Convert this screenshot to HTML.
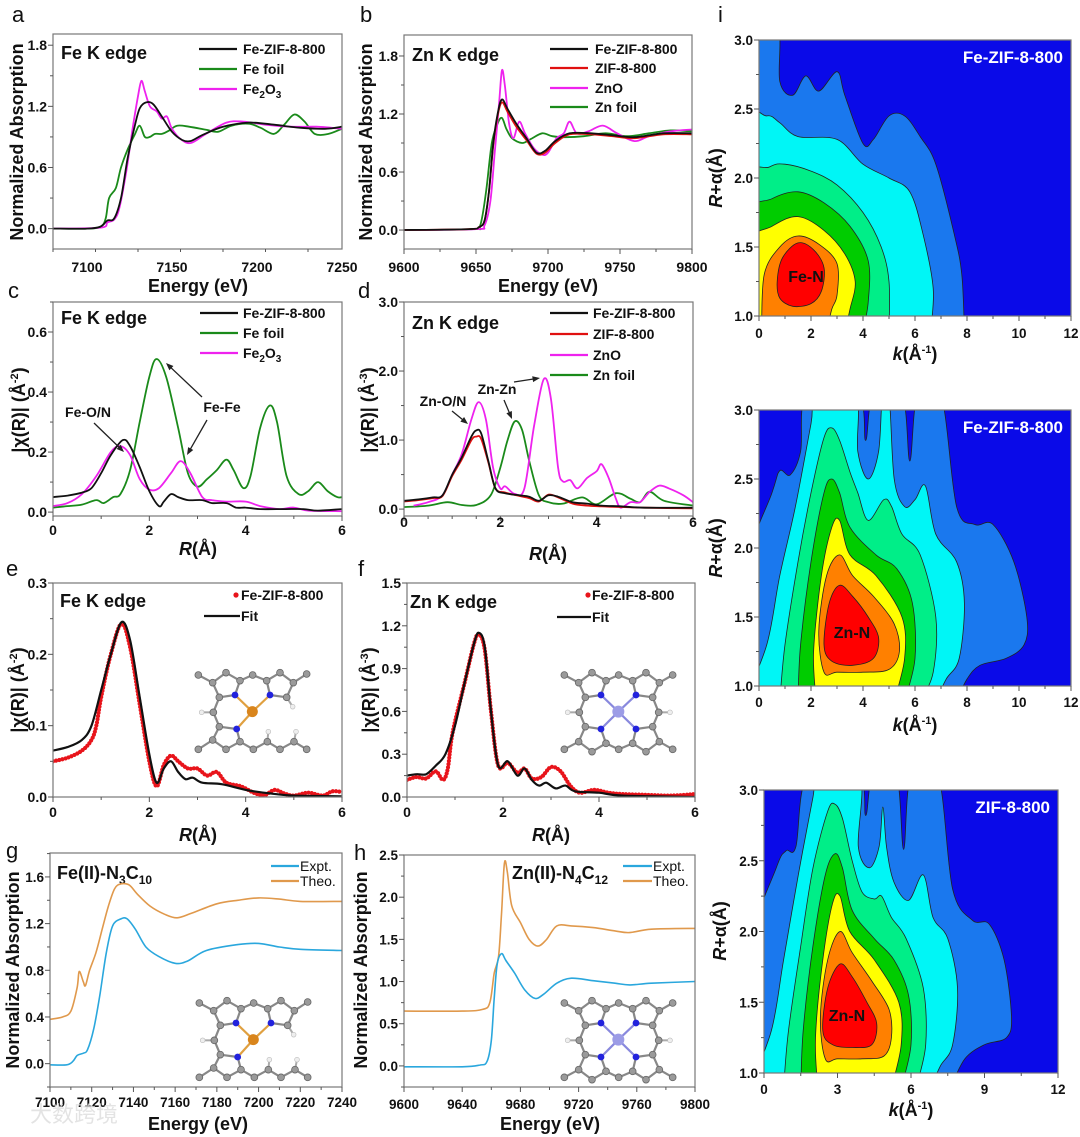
<!DOCTYPE html>
<html><head><meta charset="utf-8">
<style>
html,body{margin:0;padding:0;background:#fff;}
svg{display:block;font-family:"Liberation Sans","Noto Sans CJK SC",sans-serif;}
.t{font-weight:bold;fill:#111;}
</style></head>
<body>
<svg id="fig" xmlns="http://www.w3.org/2000/svg" width="1080" height="1137" viewBox="0 0 1080 1137">
<rect x="0" y="0" width="1080" height="1137" fill="#fff"/>
<g font-size="22" fill="#111">
<text x="12" y="22">a</text>
<text x="360" y="22">b</text>
<text x="8" y="298">c</text>
<text x="358" y="298">d</text>
<text x="6" y="576">e</text>
<text x="358" y="576">f</text>
<text x="6" y="858">g</text>
<text x="354" y="860">h</text>
<text x="718" y="22">i</text>
</g>
<g class="t" font-size="18" text-anchor="middle">
<text transform="translate(23,142) rotate(-90)">Normalized Absorption</text>
<text transform="translate(372,142) rotate(-90)">Normalized Absorption</text>
<text x="198" y="292">Energy (eV)</text>
<text x="548" y="292">Energy (eV)</text>
<text transform="translate(25,410) rotate(-90)">|χ(R)| (Å<tspan font-size="11" dy="-7">-2</tspan><tspan dy="7">)</tspan></text>
<text transform="translate(374,410) rotate(-90)">|χ(R)| (Å<tspan font-size="11" dy="-7">-3</tspan><tspan dy="7">)</tspan></text>
<text x="198" y="555"><tspan font-style="italic">R</tspan>(Å)</text>
<text x="548" y="560"><tspan font-style="italic">R</tspan>(Å)</text>
<text transform="translate(24,690) rotate(-90)">|χ(R)| (Å<tspan font-size="11" dy="-7">-2</tspan><tspan dy="7">)</tspan></text>
<text transform="translate(375,690) rotate(-90)">|χ(R)| (Å<tspan font-size="11" dy="-7">-3</tspan><tspan dy="7">)</tspan></text>
<text x="198" y="841"><tspan font-style="italic">R</tspan>(Å)</text>
<text x="551" y="841"><tspan font-style="italic">R</tspan>(Å)</text>
<text transform="translate(19,970) rotate(-90)">Normalized Absorption</text>
<text transform="translate(367,970) rotate(-90)">Normalized Absorption</text>
<text x="198" y="1130">Energy (eV)</text>
<text x="550" y="1130">Energy (eV)</text>
<text transform="translate(722,178) rotate(-90)"><tspan font-style="italic">R</tspan>+α(Å)</text>
<text transform="translate(722,548) rotate(-90)"><tspan font-style="italic">R</tspan>+α(Å)</text>
<text transform="translate(726,931) rotate(-90)"><tspan font-style="italic">R</tspan>+α(Å)</text>
<text x="915" y="360"><tspan font-style="italic">k</tspan>(Å<tspan font-size="11" dy="-7">-1</tspan><tspan dy="7">)</tspan></text>
<text x="915" y="731"><tspan font-style="italic">k</tspan>(Å<tspan font-size="11" dy="-7">-1</tspan><tspan dy="7">)</tspan></text>
<text x="911" y="1116"><tspan font-style="italic">k</tspan>(Å<tspan font-size="11" dy="-7">-1</tspan><tspan dy="7">)</tspan></text>
</g>
<g class="t" font-size="18">
<text x="61" y="59">Fe K edge</text>
<text x="412" y="61">Zn K edge</text>
<text x="61" y="324">Fe K edge</text>
<text x="412" y="329">Zn K edge</text>
<text x="60" y="607">Fe K edge</text>
<text x="410" y="608">Zn K edge</text>
<text x="57" y="879">Fe(II)-N<tspan font-size="12" dy="5">3</tspan><tspan dy="-5">C</tspan><tspan font-size="12" dy="5">10</tspan></text>
<text x="512" y="879">Zn(II)-N<tspan font-size="12" dy="5">4</tspan><tspan dy="-5">C</tspan><tspan font-size="12" dy="5">12</tspan></text>
</g>
<g id="charts"></g>
<text x="30" y="1122" font-size="22" fill="#ddd" opacity="0.8">大数跨境</text>
</svg>
<script>
const aXTicks=[7100,7150,7200,7250];
const aYTicks=[0.0,0.6,1.2,1.8];
const aFeZIF=[[7080,0],[7100,0],[7108,0.02],[7112,0.08],[7116,0.1],[7120,0.3],[7124,0.7],[7128,1.0],[7131,1.18],[7135,1.24],[7139,1.22],[7144,1.1],[7150,0.95],[7156,0.87],[7161,0.86],[7168,0.92],[7180,1.0],[7195,1.04],[7210,1.02],[7225,0.99],[7240,0.98],[7250,1.0]];
const aFeFoil=[[7080,0],[7100,0],[7108,0.02],[7111,0.1],[7113,0.3],[7117,0.4],[7120,0.6],[7124,0.78],[7128,0.92],[7131,1.01],[7134,0.9],[7137,0.9],[7140,0.93],[7144,0.93],[7148,0.96],[7153,1.01],[7160,1.0],[7170,0.97],[7177,0.95],[7185,1.01],[7195,1.03],[7202,0.99],[7210,0.93],[7216,1.02],[7222,1.12],[7228,1.05],[7234,0.93],[7242,0.93],[7250,0.98]];
const aFe2O3=[[7080,0],[7108,0.01],[7112,0.06],[7116,0.09],[7119,0.2],[7123,0.55],[7127,1.0],[7130,1.3],[7132,1.45],[7134,1.35],[7137,1.2],[7141,1.15],[7144,1.08],[7147,1.1],[7150,0.98],[7155,0.88],[7161,0.84],[7170,0.93],[7182,1.04],[7192,1.05],[7205,1.02],[7220,1.0],[7235,1.0],[7250,0.98]];
const bXTicks=[9600,9650,9700,9750,9800];
const bYTicks=[0.0,0.6,1.2,1.8];
const bFeZIF=[[9600,0],[9645,0.01],[9652,0.03],[9656,0.1],[9659,0.4],[9662,0.9],[9665,1.2],[9668,1.35],[9672,1.25],[9678,1.1],[9685,0.95],[9692,0.8],[9698,0.82],[9705,0.92],[9715,1.0],[9730,1.0],[9745,0.98],[9760,0.96],[9780,1.0],[9800,1.0]];
const bZIF=[[9600,0],[9645,0.01],[9652,0.03],[9656,0.1],[9659,0.4],[9662,0.88],[9665,1.18],[9668,1.32],[9672,1.22],[9678,1.07],[9685,0.93],[9692,0.79],[9698,0.8],[9705,0.9],[9715,0.99],[9730,0.99],[9745,0.97],[9760,0.95],[9780,0.99],[9800,0.99]];
const bZnO=[[9600,0],[9650,0.01],[9656,0.05],[9660,0.3],[9663,0.8],[9666,1.3],[9668,1.65],[9670,1.5],[9673,1.1],[9676,0.95],[9680,1.12],[9684,1.0],[9690,0.85],[9696,0.78],[9700,0.8],[9706,0.95],[9711,1.0],[9715,1.12],[9720,1.0],[9728,1.02],[9738,1.08],[9748,1.0],[9760,0.92],[9770,0.97],[9785,1.02],[9800,1.04]];
const bZnFoil=[[9600,0],[9648,0.01],[9653,0.05],[9657,0.4],[9661,0.9],[9665,1.1],[9668,1.16],[9671,1.05],[9675,0.95],[9682,0.9],[9688,0.94],[9696,1.0],[9703,0.97],[9712,0.96],[9725,0.97],[9740,1.0],[9755,0.97],[9770,1.0],[9785,1.03],[9800,1.02]];
const cXTicks=[0,2,4,6];
const cYTicks=[0.0,0.2,0.4,0.6];
const cFeZIF=[[0,0.05],[0.3,0.055],[0.6,0.065],[0.8,0.08],[1.0,0.13],[1.2,0.19],[1.45,0.24],[1.6,0.22],[1.8,0.15],[2.0,0.07],[2.2,0.02],[2.3,0.035],[2.45,0.06],[2.6,0.05],[2.8,0.04],[3.1,0.04],[3.3,0.03],[3.6,0.03],[3.8,0.015],[4,0.015],[4.3,0.01],[4.8,0.01],[5.2,0.01],[5.5,0.005],[6,0.01]];
const cFeFoil=[[0,0.015],[0.3,0.02],[0.6,0.025],[0.9,0.04],[1.05,0.03],[1.25,0.05],[1.4,0.06],[1.6,0.14],[1.8,0.3],[2.0,0.45],[2.15,0.51],[2.35,0.45],[2.6,0.28],[2.8,0.13],[3.0,0.085],[3.2,0.11],[3.4,0.14],[3.6,0.175],[3.75,0.14],[3.95,0.08],[4.1,0.12],[4.3,0.28],[4.5,0.355],[4.65,0.3],[4.85,0.12],[5.1,0.06],[5.3,0.07],[5.5,0.1],[5.7,0.07],[5.9,0.05],[6,0.05]];
const cFe2O3=[[0,0.02],[0.3,0.03],[0.6,0.06],[0.9,0.12],[1.2,0.2],[1.4,0.22],[1.6,0.19],[1.8,0.11],[2.0,0.075],[2.2,0.08],[2.45,0.13],[2.65,0.17],[2.85,0.13],[3.1,0.05],[3.3,0.04],[3.6,0.035],[4.0,0.035],[4.3,0.02],[4.7,0.01],[5.0,0.015],[5.3,0.005],[6,0.003]];
const dXTicks=[0,2,4,6];
const dYTicks=[0.0,1.0,2.0,3.0];
const dFeZIF=[[0,0.12],[0.3,0.14],[0.6,0.17],[0.8,0.2],[1.0,0.5],[1.2,0.75],[1.4,1.05],[1.5,1.14],[1.6,1.1],[1.75,0.7],[1.9,0.3],[2.1,0.23],[2.4,0.2],[2.6,0.18],[2.8,0.12],[3.0,0.2],[3.2,0.18],[3.5,0.1],[3.8,0.08],[4.1,0.05],[4.5,0.04],[5,0.02],[6,0.02]];
const dZIF=[[0,0.11],[0.3,0.13],[0.6,0.16],[0.8,0.19],[1.0,0.48],[1.2,0.72],[1.4,1.0],[1.5,1.05],[1.6,1.02],[1.75,0.68],[1.9,0.3],[2.1,0.24],[2.4,0.19],[2.6,0.16],[2.8,0.11],[3.0,0.21],[3.2,0.17],[3.5,0.08],[3.8,0.05],[4.1,0.04],[4.5,0.03],[5,0.02],[6,0.01]];
const dZnO=[[0.2,0.05],[0.5,0.1],[0.8,0.2],[1.0,0.5],[1.2,0.8],[1.4,1.3],[1.55,1.55],[1.7,1.3],[1.85,0.6],[2.0,0.3],[2.1,0.33],[2.3,0.22],[2.5,0.3],[2.7,1.2],[2.9,1.88],[3.05,1.6],[3.2,0.6],[3.3,0.4],[3.45,0.42],[3.6,0.3],[3.8,0.45],[4.0,0.55],[4.1,0.65],[4.25,0.45],[4.4,0.15],[4.5,0.02],[4.7,0.1],[4.9,0.1],[5.1,0.25],[5.3,0.34],[5.5,0.3],[5.8,0.2],[6,0.1]];
const dZnFoil=[[0,0.03],[0.5,0.05],[0.9,0.1],[1.2,0.06],[1.5,0.06],[1.8,0.2],[2.0,0.6],[2.15,1.0],[2.3,1.27],[2.45,1.15],[2.6,0.7],[2.8,0.2],[3.0,0.1],[3.3,0.08],[3.7,0.17],[4.0,0.07],[4.4,0.23],[4.7,0.15],[4.9,0.1],[5.1,0.25],[5.4,0.12],[6,0.05]];
const eXTicks=[0,2,4,6];
const eYTicks=[0.0,0.1,0.2,0.3];
const eData=[[0,0.05],[0.3,0.055],[0.6,0.065],[0.8,0.08],[0.9,0.1],[1.0,0.14],[1.2,0.2],[1.42,0.243],[1.6,0.21],[1.8,0.13],[2.0,0.05],[2.15,0.015],[2.3,0.045],[2.45,0.058],[2.6,0.05],[2.8,0.04],[3.0,0.04],[3.2,0.03],[3.4,0.035],[3.6,0.02],[3.9,0.015],[4.2,0.005],[4.4,0.003],[4.6,0.01],[4.8,0.005],[5.0,0.002],[5.3,0.006],[5.6,0.002],[5.8,0.008],[6,0.007]];
const eFit=[[0,0.065],[0.3,0.07],[0.6,0.08],[0.8,0.1],[1.0,0.15],[1.2,0.2],[1.42,0.245],[1.6,0.22],[1.8,0.14],[2.0,0.06],[2.15,0.02],[2.3,0.04],[2.45,0.05],[2.6,0.035],[2.75,0.025],[2.9,0.027],[3.1,0.02],[3.5,0.018],[4,0.01],[4.5,0.005],[5,0.002],[6,0.001]];
const fXTicks=[0,2,4,6];
const fYTicks=[0.0,0.3,0.6,0.9,1.2,1.5];
const fData=[[0,0.12],[0.2,0.14],[0.4,0.13],[0.6,0.18],[0.75,0.12],[0.85,0.2],[0.95,0.45],[1.2,0.8],[1.4,1.08],[1.5,1.14],[1.62,1.03],[1.75,0.6],[1.9,0.22],[2.1,0.24],[2.3,0.17],[2.45,0.2],[2.6,0.13],[2.8,0.14],[3.0,0.21],[3.2,0.18],[3.4,0.08],[3.6,0.03],[3.9,0.05],[4.2,0.03],[4.5,0.02],[5,0.015],[5.5,0.01],[6,0.02]];
const fFit=[[0,0.15],[0.2,0.16],[0.4,0.16],[0.6,0.22],[0.8,0.3],[1.0,0.5],[1.2,0.8],[1.4,1.08],[1.5,1.15],[1.62,1.05],[1.75,0.6],[1.9,0.22],[2.1,0.25],[2.3,0.15],[2.45,0.2],[2.6,0.12],[2.75,0.08],[2.9,0.1],[3.1,0.06],[3.3,0.08],[3.5,0.04],[4,0.03],[4.5,0.01],[6,0.0]];
const gXTicks=[7100,7120,7140,7160,7180,7200,7220,7240];
const gYTicks=[0.0,0.4,0.8,1.2,1.6];
const gExpt=[[7100,-0.01],[7108,-0.01],[7111,0.02],[7113,0.07],[7116,0.09],[7118,0.12],[7121,0.3],[7124,0.6],[7127,0.95],[7130,1.18],[7134,1.24],[7137,1.24],[7141,1.15],[7146,1.0],[7152,0.92],[7160,0.86],[7166,0.88],[7175,0.97],[7190,1.02],[7200,1.03],[7210,1.0],[7220,0.98],[7240,0.97]];
const gTheo=[[7100,0.38],[7106,0.4],[7110,0.45],[7113,0.65],[7114,0.79],[7116,0.7],[7117,0.67],[7119,0.8],[7122,0.95],[7125,1.15],[7128,1.35],[7131,1.5],[7134,1.54],[7138,1.53],[7142,1.45],[7148,1.35],[7155,1.28],[7161,1.25],[7168,1.29],[7180,1.37],[7190,1.4],[7200,1.42],[7210,1.41],[7220,1.39],[7240,1.39]];
const hXTicks=[9600,9640,9680,9720,9760,9800];
const hYTicks=[0.0,0.5,1.0,1.5,2.0,2.5];
const hExpt=[[9600,-0.01],[9640,-0.01],[9652,0.01],[9657,0.05],[9660,0.3],[9662,0.8],[9664,1.2],[9667,1.33],[9670,1.25],[9676,1.1],[9683,0.9],[9690,0.8],[9696,0.85],[9705,0.98],[9715,1.04],[9730,1.01],[9745,0.98],[9755,0.96],[9770,0.98],[9800,1.0]];
const hTheo=[[9600,0.65],[9640,0.65],[9654,0.67],[9659,0.75],[9662,1.1],[9665,1.3],[9667,1.8],[9669,2.4],[9671,2.3],[9674,1.9],[9680,1.7],[9686,1.5],[9692,1.42],[9698,1.5],[9705,1.66],[9715,1.66],[9730,1.64],[9745,1.6],[9755,1.58],[9770,1.62],[9800,1.63]];
const iYTicks=[1.0,1.5,2.0,2.5,3.0];
const i1XTicks=[0,2,4,6,8,10,12];
const i3XTicks=[0,3,6,9,12];
const i1L1=[[0,1],[0,3.05],[0.7,3.05],[0.8,2.7],[1.3,2.6],[1.8,2.74],[2.3,2.63],[3.0,2.77],[3.3,2.6],[4.0,2.25],[4.4,2.28],[5,2.45],[5.6,2.45],[6.2,2.3],[6.8,2.1],[7.5,1.6],[7.8,1.3],[7.9,1.0]];
const i1L2=[[0,1],[0,2.35],[0.3,2.45],[0.8,2.4],[1.5,2.3],[3,2.28],[4,2.1],[5,2.0],[5.8,1.9],[6.3,1.6],[6.7,1.2],[6.6,1.0]];
const i1L3=[[0,1],[0,1.95],[0.4,2.08],[1,2.1],[2,2.05],[3,1.95],[4,1.75],[4.7,1.5],[5,1.25],[5,1.0]];
const i1L4=[[0,1],[0,1.7],[0.5,1.85],[1.5,1.9],[2.5,1.82],[3.5,1.65],[4.2,1.4],[4.2,1.1],[4,1.0]];
const i1L5=[[0,1],[0,1.5],[0.5,1.65],[1.5,1.72],[2.5,1.62],[3.3,1.45],[3.7,1.25],[3.5,1.05],[3.3,1.0]];
const i1L6=[[0.1,1],[0.2,1.3],[0.8,1.5],[1.5,1.58],[2.3,1.52],[3,1.38],[3.0,1.15],[2.8,1.05],[2.6,1.0]];
const i1L7=[[0.7,1.25],[0.9,1.42],[1.5,1.53],[2.1,1.48],[2.5,1.35],[2.4,1.18],[2,1.09],[1.3,1.07],[0.8,1.13]];
const i2L1=[[0,1],[0,1.8],[0.5,2.4],[0.8,2.56],[1.2,2.53],[1.6,2.7],[1.85,3.05],[3.8,3.05],[4.1,2.78],[4.4,3.05],[5.5,3.05],[5.8,2.63],[6.1,3.05],[7.0,3.05],[7.6,2.3],[8.3,2.17],[9.0,2.17],[9.8,1.9],[10.3,1.5],[10.2,1.3],[9.5,1.2],[8.5,1.15],[8,1.05],[7.6,1.0]];
const i2L2=[[0,1],[0.3,1.3],[0.8,1.8],[1.4,2.3],[2.0,2.9],[2.2,3.05],[3.7,3.05],[3.8,2.7],[4.2,2.5],[4.6,2.7],[4.75,3.05],[5.0,3.05],[5.2,2.5],[5.6,2.3],[6.0,2.35],[6.4,2.45],[6.8,2.1],[7.6,1.9],[7.9,1.6],[7.7,1.2],[7.2,1.05],[6.8,1.0]];
const i2L3=[[0.8,1],[1.0,1.3],[1.5,1.9],[2.0,2.4],[2.5,2.8],[2.8,2.87],[3.1,2.78],[3.5,2.55],[3.8,2.4],[4.2,2.2],[4.8,2.35],[5.1,2.3],[5.5,2.1],[6.2,1.95],[6.8,1.5],[6.7,1.1],[6.2,1.0]];
const i2L4=[[1.5,1],[1.6,1.3],[2.0,1.9],[2.5,2.4],[2.8,2.5],[3.1,2.4],[3.5,2.15],[4.5,1.95],[5.3,1.85],[5.9,1.6],[6.0,1.2],[5.6,1.0]];
const i2L5=[[2.2,1.0],[2.1,1.25],[2.4,1.8],[2.8,2.15],[3.1,2.2],[3.5,1.95],[4.5,1.8],[5.5,1.5],[5.6,1.2],[5.2,1.0]];
const i2L6=[[2.5,1.1],[2.3,1.4],[2.6,1.8],[3.1,1.95],[3.6,1.8],[4.4,1.65],[5.2,1.45],[5.4,1.25],[5.0,1.12],[4,1.1],[3,1.1]];
const i2L7=[[2.5,1.3],[2.7,1.6],[3.1,1.73],[3.6,1.65],[4.2,1.5],[4.6,1.35],[4.4,1.2],[3.6,1.15],[2.8,1.18]];
const i3L1=[[0,1],[0,1.85],[0.5,2.45],[0.9,2.57],[1.3,2.6],[1.8,3.05],[3.85,3.05],[4.15,2.82],[4.45,3.05],[5.4,3.05],[5.7,2.58],[6.0,3.05],[7.1,3.05],[7.7,2.3],[8.5,2.08],[9.2,2.05],[9.8,1.8],[10.1,1.4],[9.9,1.25],[9.0,1.2],[8.2,1.1],[7.6,1.0]];
const i3L2=[[0,1],[0.3,1.3],[0.8,1.8],[1.4,2.4],[2.0,2.95],[2.2,3.05],[3.9,3.05],[3.85,2.6],[4.3,2.45],[4.7,2.6],[4.85,2.88],[5.0,2.6],[5.3,2.35],[5.9,2.22],[6.5,2.4],[6.9,2.1],[7.5,1.95],[7.9,1.6],[7.7,1.2],[7.2,1.05],[6.8,1.0]];
const i3L3=[[0.8,1],[1.0,1.3],[1.5,1.9],[2.0,2.45],[2.6,2.85],[2.9,2.9],[3.2,2.8],[3.6,2.5],[4.0,2.28],[4.5,2.23],[4.8,2.25],[5.2,2.1],[5.8,1.95],[6.5,1.6],[6.6,1.2],[6.2,1.0]];
const i3L4=[[1.5,1],[1.6,1.3],[2.0,1.9],[2.5,2.4],[2.9,2.55],[3.2,2.45],[3.6,2.15],[4.5,1.95],[5.3,1.8],[5.9,1.55],[6.0,1.2],[5.6,1.0]];
const i3L5=[[2.2,1.0],[2.1,1.25],[2.4,1.8],[2.8,2.2],[3.1,2.25],[3.5,2.0],[4.5,1.8],[5.5,1.5],[5.6,1.2],[5.2,1.0]];
const i3L6=[[2.5,1.1],[2.3,1.4],[2.6,1.8],[3.1,2.0],[3.6,1.85],[4.4,1.65],[5.1,1.45],[5.2,1.25],[4.9,1.12],[4,1.1],[3,1.1]];
const i3L7=[[2.4,1.3],[2.6,1.6],[3.1,1.77],[3.6,1.68],[4.2,1.5],[4.6,1.35],[4.4,1.2],[3.6,1.18],[2.8,1.2]];

const NS='http://www.w3.org/2000/svg';
const root=document.getElementById('charts');
function mk(tag,attrs,parent){const e=document.createElementNS(NS,tag);for(const k in attrs)e.setAttribute(k,attrs[k]);(parent||root).appendChild(e);return e;}
function smooth(pts,closed){
  if(pts.length<2)return '';
  let d='M'+pts[0][0].toFixed(1)+','+pts[0][1].toFixed(1);
  const n=pts.length;
  const P=i=>closed?pts[(i+n)%n]:pts[Math.max(0,Math.min(n-1,i))];
  const last=closed?n:n-1;
  for(let i=0;i<last;i++){
    const p0=P(i-1),p1=P(i),p2=P(i+1),p3=P(i+2);
    const c1=[p1[0]+(p2[0]-p0[0])/6,p1[1]+(p2[1]-p0[1])/6];
    const c2=[p2[0]-(p3[0]-p1[0])/6,p2[1]-(p3[1]-p1[1])/6];
    d+='C'+c1[0].toFixed(1)+','+c1[1].toFixed(1)+' '+c2[0].toFixed(1)+','+c2[1].toFixed(1)+' '+p2[0].toFixed(1)+','+p2[1].toFixed(1);
  }
  return d+(closed?'Z':'');
}
let clipN=0;
function axes(c){
  const g=mk('g',{});
  
  
  const sx=v=>c.x0+(v-c.xmin)/(c.xmax-c.xmin)*(c.x1-c.x0);
  const sy=v=>c.y1-(v-c.ymin)/(c.ymax-c.ymin)*(c.y1-c.y0);
  const id='clip'+(clipN++);
  const cp=mk('clipPath',{id:id},g);
  mk('rect',{x:c.x0,y:c.y0,width:c.x1-c.x0,height:c.y1-c.y0},cp);
  const plot=mk('g',{'clip-path':'url(#'+id+')'},g);
  
  
  return {g,plot,sx,sy,c};
}
function frame(A,xt,yt,xfmt,yfmt,xMinorStep,yMinorStep,fs,xlY){
  const {g,sx,sy,c}=A;
  const fr=mk('rect',{x:c.x0,y:c.y0,width:c.x1-c.x0,height:c.y1-c.y0,fill:'none',stroke:'#777','stroke-width':1.2},g);
  
  
  for(let v=c.xmin;v<=c.xmax+1e-9;v+=xMinorStep){
    const isMaj=xt.some(t=>Math.abs(t-v)<1e-6);
    const x=sx(v);
    if(x<c.x0-0.5||x>c.x1+0.5)continue;
    const tk=mk('line',{x1:x,x2:x,y1:c.y1,y2:c.y1+(isMaj?5:3),stroke:'#555','stroke-width':1},g);
    
    
  }
  xt.forEach(t=>{const tx=mk('text',{x:sx(t),y:xlY,'text-anchor':'middle','font-size':fs,'font-weight':'bold',fill:'#111'},g);tx.textContent=xfmt(t);
    
    });
  const y0=Math.ceil(c.ymin/yMinorStep-1e-9)*yMinorStep;
  for(let v=y0;v<=c.ymax+1e-9;v+=yMinorStep){
    const isMaj=yt.some(t=>Math.abs(t-v)<1e-6);
    const y=sy(v);
    const tk=mk('line',{x1:c.x0,x2:c.x0-(isMaj?5:3),y1:y,y2:y,stroke:'#555','stroke-width':1},g);
    
    
  }
  yt.forEach(t=>{const tx=mk('text',{x:c.x0-6,y:sy(t)+5,'text-anchor':'end','font-size':fs,'font-weight':'bold',fill:'#111'},g);tx.textContent=yfmt(t);
    
    });
}
function line(A,data,color,name,w){
  const p=mk('path',{d:smooth(data.map(d=>[A.sx(d[0]),A.sy(d[1])]),false),fill:'none',stroke:color,'stroke-width':w||1.8,'stroke-linejoin':'round'},A.plot);
  
  
  return p;
}
function dots(A,data,name){
  const p=mk('path',{d:smooth(data.map(d=>[A.sx(d[0]),A.sy(d[1])]),false),fill:'none',stroke:'#e8141b','stroke-width':4.2,'stroke-linecap':'round','stroke-dasharray':'0 3.2'},A.plot);
  
  
}
function legend(entries,lx0,lx1,ys,tx,fs,weight){
  entries.forEach((e,i)=>{
    const gg=mk('g',{});
    
    
    if(e.dot){mk('circle',{cx:(lx0+lx1)/2+14,cy:ys[i],r:2.6,fill:'#e8141b'},gg);}
    else mk('line',{x1:lx0,x2:lx1,y1:ys[i],y2:ys[i],stroke:e.color,'stroke-width':2.2},gg);
    const t=mk('text',{x:tx,y:ys[i]+5,'font-size':fs,'font-weight':weight||'bold',fill:'#111'},gg);
    if(e.sub){t.innerHTML=e.label;}else t.textContent=e.label;
  });
}
function arrow(x1,y1,x2,y2,name){
  const a=Math.atan2(y2-y1,x2-x1),L=8;
  const g=mk('g',{});
  
  
  mk('line',{x1,y1,x2:x2-Math.cos(a)*5,y2:y2-Math.sin(a)*5,stroke:'#222','stroke-width':1.3},g);
  mk('path',{d:`M${x2},${y2}L${x2-L*Math.cos(a-0.38)},${y2-L*Math.sin(a-0.38)}L${x2-L*Math.cos(a+0.38)},${y2-L*Math.sin(a+0.38)}Z`,fill:'#222'},g);
}
function label(x,y,txt,name,fs){
  const t=mk('text',{x,y,'text-anchor':'middle','font-size':fs||14,'font-weight':'bold',fill:'#111'});
  t.textContent=txt;
  
  
}
const f1=v=>v.toFixed(1), f0=v=>String(v);
const BLK='#111',GRN='#1a8a1a',MAG='#ee22ee',RED='#e01010',BLU='#2aa7dd',ORG='#e0994c';

let A=axes({id:'a',x0:53,x1:342,y0:34,y1:249,xmin:7080,xmax:7250,ymin:-0.2,ymax:1.91});
line(A,aFeFoil,GRN,'series-a-fe-foil');line(A,aFe2O3,MAG,'series-a-fe2o3');line(A,aFeZIF,BLK,'series-a-fe-zif-8-800');
frame(A,aXTicks,aYTicks,f0,f1,25,0.3,14,272);
legend([{key:'a-fe-zif',color:BLK,label:'Fe-ZIF-8-800'},{key:'a-fe-foil',color:GRN,label:'Fe foil'},{key:'a-fe2o3',color:MAG,sub:1,label:'Fe<tspan font-size="10" dy="4">2</tspan><tspan dy="-4">O</tspan><tspan font-size="10" dy="4">3</tspan>'}],199,237,[49,69,89],243,14);
A=axes({id:'b',x0:404,x1:692,y0:35,y1:249,xmin:9600,xmax:9800,ymin:-0.196,ymax:2.017});
line(A,bZnFoil,GRN,'series-b-zn-foil');line(A,bZnO,MAG,'series-b-zno');line(A,bZIF,RED,'series-b-zif-8-800');line(A,bFeZIF,BLK,'series-b-fe-zif-8-800');
frame(A,bXTicks,bYTicks,f0,f1,25,0.3,14,272);
legend([{key:'b-fe-zif',color:BLK,label:'Fe-ZIF-8-800'},{key:'b-zif',color:RED,label:'ZIF-8-800'},{key:'b-zno',color:MAG,label:'ZnO'},{key:'b-zn-foil',color:GRN,label:'Zn foil'}],550,588,[49,68,88,107],595,14);
A=axes({id:'c',x0:53,x1:342,y0:302,y1:516,xmin:0,xmax:6,ymin:-0.013,ymax:0.7});
line(A,cFeFoil,GRN,'series-c-fe-foil');line(A,cFe2O3,MAG,'series-c-fe2o3');line(A,cFeZIF,BLK,'series-c-fe-zif-8-800');
frame(A,cXTicks,cYTicks,f0,f1,1,0.1,14,535);
legend([{key:'c-fe-zif',color:BLK,label:'Fe-ZIF-8-800'},{key:'c-fe-foil',color:GRN,label:'Fe foil'},{key:'c-fe2o3',color:MAG,sub:1,label:'Fe<tspan font-size="10" dy="4">2</tspan><tspan dy="-4">O</tspan><tspan font-size="10" dy="4">3</tspan>'}],200,238,[313,333,353],243,14);
label(88,417,'Fe-O/N','annotation-fe-o-n');arrow(94,423,124,452,'arrow-fe-o-n');
label(222,412,'Fe-Fe','annotation-fe-fe');arrow(202,397,166,363,'arrow-fe-fe-1');arrow(207,420,187,455,'arrow-fe-fe-2');
A=axes({id:'d',x0:404,x1:693,y0:302,y1:516,xmin:0,xmax:6,ymin:-0.1,ymax:3.0});
line(A,dZnFoil,GRN,'series-d-zn-foil');line(A,dZnO,MAG,'series-d-zno');line(A,dZIF,RED,'series-d-zif-8-800');line(A,dFeZIF,BLK,'series-d-fe-zif-8-800');
frame(A,dXTicks,dYTicks,f0,f1,0.5,0.5,14,527);
legend([{key:'d-fe-zif',color:BLK,label:'Fe-ZIF-8-800'},{key:'d-zif',color:RED,label:'ZIF-8-800'},{key:'d-zno',color:MAG,label:'ZnO'},{key:'d-zn-foil',color:GRN,label:'Zn foil'}],550,588,[313,334,355,375],593,14);
label(443,406,'Zn-O/N','annotation-zn-o-n');arrow(452,411,468,424,'arrow-zn-o-n');
label(497,394,'Zn-Zn','annotation-zn-zn');arrow(504,400,512,419,'arrow-zn-zn-1');arrow(514,382,540,378,'arrow-zn-zn-2');
A=axes({id:'e',x0:53,x1:342,y0:583,y1:797,xmin:0,xmax:6,ymin:0,ymax:0.3});
dots(A,eData,'series-e-data');line(A,eFit,BLK,'series-e-fit',2.2);
frame(A,eXTicks,eYTicks,f0,f1,1,0.05,14,817);
legend([{key:'e-data',dot:1,label:'Fe-ZIF-8-800'},{key:'e-fit',color:BLK,label:'Fit'}],204,240,[595,616],241,14);
A=axes({id:'f',x0:407,x1:695,y0:583,y1:797,xmin:0,xmax:6,ymin:0,ymax:1.5});
dots(A,fData,'series-f-data');line(A,fFit,BLK,'series-f-fit',2.2);
frame(A,fXTicks,fYTicks,f0,f1,1,0.15,14,817);
legend([{key:'f-data',dot:1,label:'Fe-ZIF-8-800'},{key:'f-fit',color:BLK,label:'Fit'}],557,591,[595,617],592,14);
A=axes({id:'g',x0:50,x1:342,y0:853,y1:1087,xmin:7100,xmax:7240,ymin:-0.2,ymax:1.805});
line(A,gTheo,ORG,'series-g-theo',1.6);line(A,gExpt,BLU,'series-g-expt',1.6);
frame(A,gXTicks,gYTicks,f0,f1,10,0.2,13.5,1107);
legend([{key:'g-expt',color:BLU,label:'Expt.'},{key:'g-theo',color:ORG,label:'Theo.'}],271,299,[866,881],300,14,'normal');
A=axes({id:'h',x0:404,x1:695,y0:855,y1:1087,xmin:9600,xmax:9800,ymin:-0.25,ymax:2.5});
line(A,hTheo,ORG,'series-h-theo',1.6);line(A,hExpt,BLU,'series-h-expt',1.6);
frame(A,hXTicks,hYTicks,f0,f1,20,0.25,13.5,1109);
legend([{key:'h-expt',color:BLU,label:'Expt.'},{key:'h-theo',color:ORG,label:'Theo.'}],623,652,[866,881],653,14,'normal');

const LEVEL_COLORS=['#1a78ee','#00f6f6','#00ee88','#00cc00','#ffff00','#ff8000','#ff0000'];
function contour(id,box,levels,xt,xMinor,txt,tlabel,lblX,lblY,xlY){
  const A=axes({id:id,x0:box[0],x1:box[1],y0:box[2],y1:box[3],xmin:0,xmax:12,ymin:1,ymax:3});
  const bg=mk('rect',{x:box[0],y:box[2],width:box[1]-box[0],height:box[3]-box[2],fill:'#0a0ae8'},A.plot);
  
  
  const px=p=>[p[0]<=0?box[0]-15:A.sx(p[0]), p[1]<=1?box[3]+15:(p[1]>=3.05?box[2]-15:A.sy(p[1]))];
  levels.forEach((L,i)=>{
    const first=L[0],last=L[L.length-1];
    const open=(first[1]<=1||first[0]<=0)&&(last[1]<=1||last[0]<=0);
    const pts=L.map(px);
    let d;
    if(open){
      const lx=pts[pts.length-1][0],fx=pts[0][0],yb=box[3]+25;
      d=smooth(pts,false)+'L'+lx.toFixed(1)+','+yb+'L'+fx.toFixed(1)+','+yb+'Z';
    } else d=smooth(pts,true);
    const p=mk('path',{d:d,fill:LEVEL_COLORS[i],stroke:'#222','stroke-width':0.8},A.plot);
    
    
  });
  frame(A,xt,iYTicks,f0,f1,xMinor,0.25,13.5,xlY);
  const t=mk('text',{x:box[1]-8,y:box[2]+23,'text-anchor':'end','font-size':17,'font-weight':'bold',fill:'#fff'});
  t.textContent=txt;
  
  
  const l=mk('text',{x:lblX,y:lblY,'text-anchor':'middle','font-size':16,'font-weight':'bold',fill:'#111'});
  l.textContent=tlabel;
  
  
}
contour('i1',[759,1071,40,316],[i1L1,i1L2,i1L3,i1L4,i1L5,i1L6,i1L7],i1XTicks,1,'Fe-ZIF-8-800','Fe-N',806,282,338);
contour('i2',[759,1071,410,686],[i2L1,i2L2,i2L3,i2L4,i2L5,i2L6,i2L7],i1XTicks,1,'Fe-ZIF-8-800','Zn-N',852,638,707);
contour('i3',[764,1058,790,1073],[i3L1,i3L2,i3L3,i3L4,i3L5,i3L6,i3L7],i3XTicks,1.5,'ZIF-8-800','Zn-N',847,1021,1094);

function molecule(ox,oy,metal,name,fe){
  const g=mk('g',{});
  
  
  const s=1/3;
  let C=[[25,45],[68,68],[108,38],[150,62],[188,45],[230,62],[270,38],[310,68],[350,42],[88,112],[290,112],[70,157],[88,200],[25,268],[68,240],[108,268],[150,245],[190,268],[232,245],[270,268],[312,245],[350,268]];
  let N=[[135,105],[240,105],[140,207]];
  let H=[[35,157],[308,140],[235,215],[318,215]];
  if(!fe){C=[[25,45],[68,68],[108,38],[150,62],[188,45],[230,62],[270,38],[310,68],[350,45],[88,112],[290,112],[70,157],[308,157],[88,200],[290,200],[25,268],[68,245],[108,275],[150,250],[188,268],[230,250],[270,275],[310,245],[350,268]];
    N=[[135,105],[240,105],[135,207],[240,207]];H=[[35,157],[342,157]];}
  const M=[187,155];
  const all=C.concat(N);
  for(let i=0;i<all.length;i++)for(let j=i+1;j<all.length;j++){
    const dx=all[i][0]-all[j][0],dy=all[i][1]-all[j][1];
    if(Math.hypot(dx,dy)<60)mk('line',{x1:ox+all[i][0]*s,y1:oy+all[i][1]*s,x2:ox+all[j][0]*s,y2:oy+all[j][1]*s,stroke:'#888','stroke-width':2.2},g);
  }
  H.forEach(h=>{let best=null,bd=1e9;C.forEach(c=>{const d=Math.hypot(c[0]-h[0],c[1]-h[1]);if(d<bd){bd=d;best=c;}});
    mk('line',{x1:ox+h[0]*s,y1:oy+h[1]*s,x2:ox+best[0]*s,y2:oy+best[1]*s,stroke:'#aaa','stroke-width':2},g);});
  N.forEach(n=>mk('line',{x1:ox+n[0]*s,y1:oy+n[1]*s,x2:ox+M[0]*s,y2:oy+M[1]*s,stroke:fe?'#e0a040':'#8888dd','stroke-width':2.2},g));
  C.forEach(c=>mk('circle',{cx:ox+c[0]*s,cy:oy+c[1]*s,r:3.4,fill:'#9a9a9a',stroke:'#666','stroke-width':0.8},g));
  N.forEach(c=>mk('circle',{cx:ox+c[0]*s,cy:oy+c[1]*s,r:3.4,fill:'#2222dd'},g));
  H.forEach(c=>mk('circle',{cx:ox+c[0]*s,cy:oy+c[1]*s,r:2.4,fill:'#eee',stroke:'#bbb','stroke-width':0.6},g));
  mk('circle',{cx:ox+M[0]*s,cy:oy+M[1]*s,r:fe?5.5:6,fill:metal},g);
}
molecule(190,660,'#d9851c','molecule-inset-e',true);
molecule(556,660,'#9c9ce6','molecule-inset-f',false);
molecule(191,988,'#d9851c','molecule-inset-g',true);
molecule(556,988,'#9c9ce6','molecule-inset-h',false);
</script>
</body></html>
